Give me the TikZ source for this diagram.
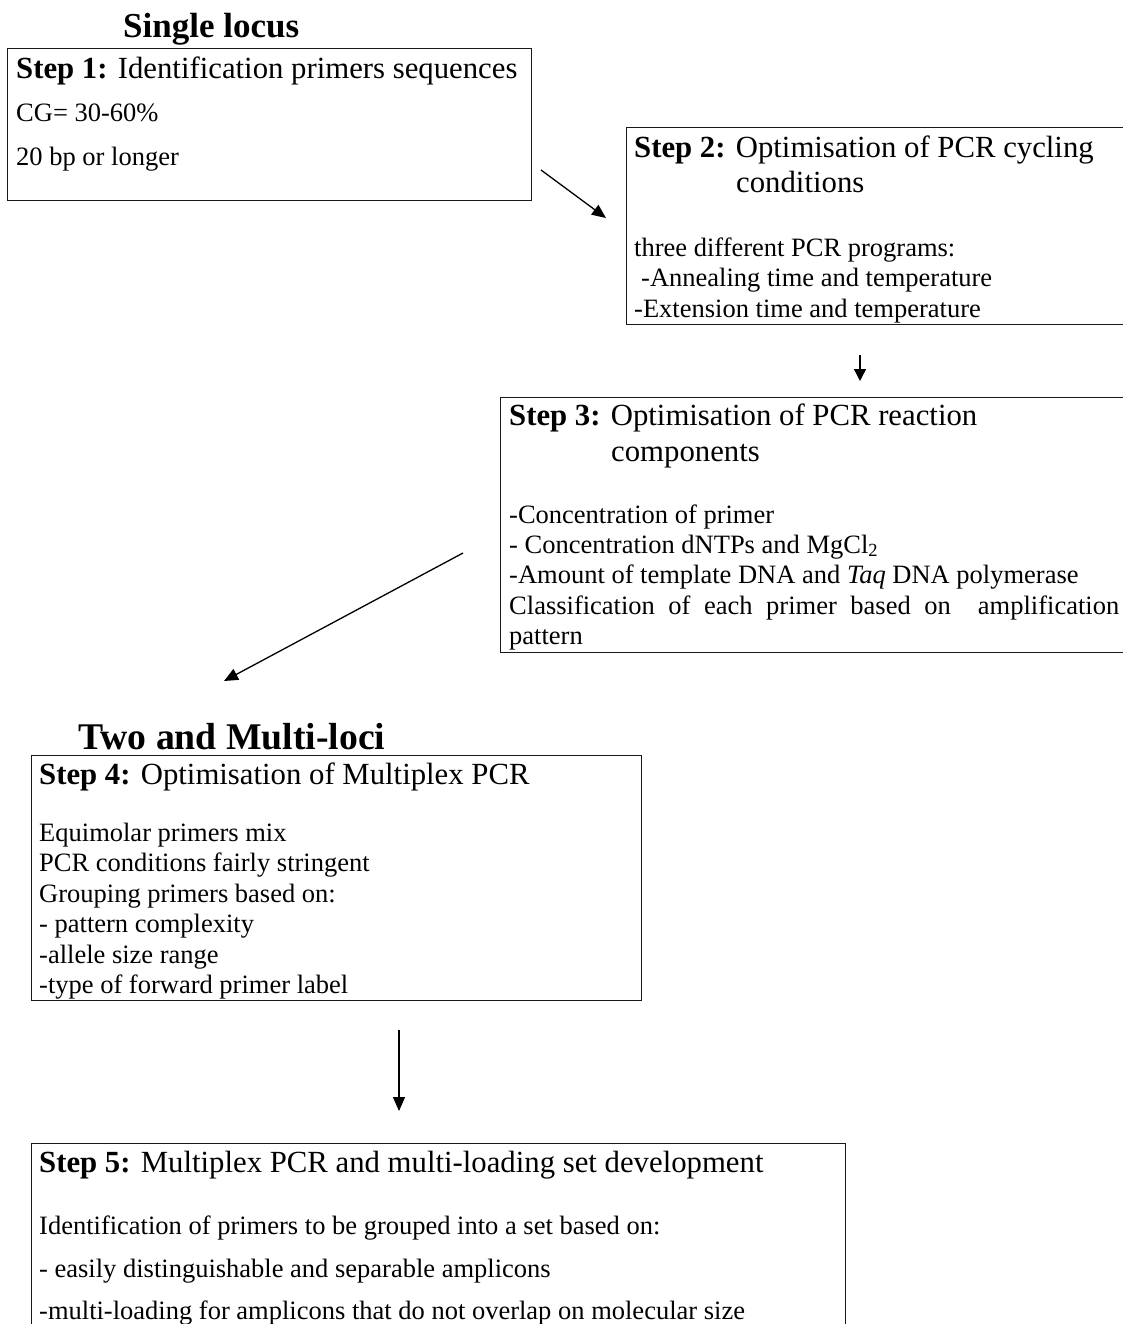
\documentclass[tikz,border=0pt]{standalone}
\usepackage{fontspec}
\setmainfont{Liberation Serif}
\usetikzlibrary{arrows.meta}
\begin{document}
\begin{tikzpicture}[x=1pt,y=-1pt,
  boxed/.style={draw=black!90, line width=1.2pt, inner sep=0pt, anchor=north west},
  txt/.style={anchor=base west, inner sep=0pt, font=\fontsize{26.5}{30}\selectfont},
  head/.style={anchor=base west, inner sep=0pt, font=\fontsize{30.75}{36}\selectfont},
  ttl/.style={anchor=base west, inner sep=0pt, font=\bfseries\fontsize{35}{40}\selectfont},
  arr/.style={line width=1.3pt, -{Triangle[length=14pt,width=12pt]}}]
\clip (0,0) rectangle (1123,1324);
\fill[white] (0,0) rectangle (1123,1324);
% titles
\node[ttl] (t1) at (123,38) {Single locus};
\node[ttl, font=\bfseries\fontsize{37.7}{42}\selectfont] (t2) at (78,749) {Two and Multi-loci};
% boxes
\node[boxed, minimum width=524pt, minimum height=152pt] (b1) at (7,48) {};
\node[boxed, minimum width=520pt, minimum height=197pt] (b2) at (626,127) {};
\node[boxed, minimum width=640pt, minimum height=255pt] (b3) at (500,397) {};
\node[boxed, minimum width=610pt, minimum height=245pt] (b4) at (31,755) {};
\node[boxed, minimum width=814pt, minimum height=220pt] (b5) at (31,1143) {};
% step 1
\node[head] (s1h) at (16,79) {\textbf{Step 1:} Identification primers sequences};
\node[txt] (s1a) at (16,122) {CG= 30-60\%};
\node[txt] (s1b) at (16,166) {20 bp or longer};
% step 2
\node[head] (s2h) at (634,158) {\textbf{Step 2:} Optimisation of PCR cycling};
\node[head] (s2h2) at (736,193) {conditions};
\node[txt] (s2a) at (634,256) {three different PCR programs:};
\node[txt] (s2b) at (641,287) {-Annealing time and temperature};
\node[txt] (s2c) at (634,317) {-Extension time and temperature};
% step 3
\node[head] (s3h) at (509,425) {\textbf{Step 3:} Optimisation of PCR reaction};
\node[head] (s3h2) at (611,461) {components};
\node[txt] (s3a) at (509,523) {-Concentration of primer};
\node[txt] (s3b) at (509,553) {- Concentration dNTPs and MgCl\textsubscript{2}};
\node[txt] (s3c) at (509,583) {-Amount of template DNA and \textit{Taq} DNA polymerase};
\node[txt] (s3d) at (509,614) {\makebox[610pt][s]{Classification of each primer based on \ amplification}};
\node[txt] (s3e) at (509,644) {pattern};
% step 4
\node[head] (s4h) at (39,784) {\textbf{Step 4:} Optimisation of Multiplex PCR};
\node[txt] (s4a) at (39,841) {Equimolar primers mix};
\node[txt] (s4b) at (39,871) {PCR conditions fairly stringent};
\node[txt] (s4c) at (39,902) {Grouping primers based on:};
\node[txt] (s4d) at (39,932) {- pattern complexity};
\node[txt] (s4e) at (39,963) {-allele size range};
\node[txt] (s4f) at (39,993) {-type of forward primer label};
% step 5
\node[head] (s5h) at (39,1172) {\textbf{Step 5:} Multiplex PCR and multi-loading set development};
\node[txt] (s5a) at (39,1234) {Identification of primers to be grouped into a set based on:};
\node[txt] (s5b) at (39,1277) {- easily distinguishable and separable amplicons};
\node[txt] (s5c) at (39,1319) {-multi-loading for amplicons that do not overlap on molecular size};
% arrows
\coordinate (a1s) at (541,170); \coordinate (a1e) at (606,218);
\coordinate (a2s) at (860,355); \coordinate (a2e) at (860,381);
\coordinate (a3s) at (463,553); \coordinate (a3e) at (224,681);
\coordinate (a4s) at (399,1030); \coordinate (a4e) at (399,1111);
\draw[arr] (a1s) -- (a1e);
\draw[arr, -{Triangle[length=12pt,width=12pt]}] (a2s) -- (a2e);
\draw[arr] (a3s) -- (a3e);
\draw[arr] (a4s) -- (a4e);
\end{tikzpicture}
\end{document}
